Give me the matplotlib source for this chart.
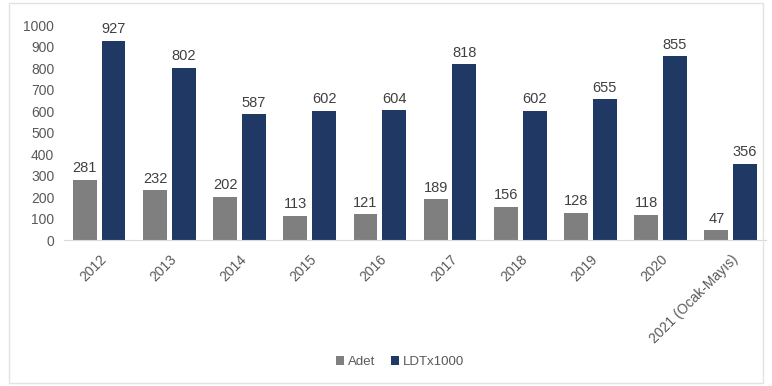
import matplotlib
matplotlib.use("Agg")
import matplotlib.pyplot as plt
from matplotlib.patches import Rectangle
import numpy as np

plt.rcParams['font.family'] = ['Liberation Sans', 'DejaVu Sans']

categories = ["2012", "2013", "2014", "2015", "2016", "2017", "2018", "2019", "2020", "2021 (Ocak-Mayıs)"]
adet = [281, 232, 202, 113, 121, 189, 156, 128, 118, 47]
ldt = [927, 802, 587, 602, 604, 818, 602, 655, 855, 356]
series_names = ["Adet", "LDTx1000"]
yticks = list(range(0, 1001, 100))

gray = "#7f7f7f"
navy = "#1f3864"
text_col = "#595959"

fig = plt.figure(figsize=(7.72, 3.86), dpi=100)
fig.patches.append(Rectangle((0.012, 0.008), 0.976, 0.984, transform=fig.transFigure,
                             fill=False, edgecolor="#e3e3e3", linewidth=1.0))
ax = fig.add_axes([0.083, 0.378, 0.909, 0.557])

x = np.arange(len(categories))
w = 0.34
off = 0.205
b1 = ax.bar(x - off, adet, w, color=gray, label=series_names[0])
b2 = ax.bar(x + off, ldt, w, color=navy, label=series_names[1])

for bars, vals in ((b1, adet), (b2, ldt)):
    for rect, v in zip(bars, vals):
        ax.text(rect.get_x() + rect.get_width() / 2, v + 20, str(v), ha="center", va="bottom",
                fontsize=10.5, color="#404040")

ax.set_xlim(-0.5, len(categories) - 0.5)
ax.set_ylim(0, 1000)
ax.set_yticks(yticks)
ax.set_yticklabels([str(t) for t in yticks], fontsize=10, color=text_col)
ax.set_xticks(x)
ax.set_xticklabels(categories, rotation=45, ha="right", rotation_mode="anchor",
                   fontsize=10, color=text_col)
ax.tick_params(axis="y", length=0, pad=7)
ax.tick_params(axis="x", length=0, pad=9)
for s in ["top", "right", "left"]:
    ax.spines[s].set_visible(False)
ax.spines["bottom"].set_color("#d9d9d9")
ax.spines["bottom"].set_linewidth(0.8)

leg = fig.legend(loc="center", bbox_to_anchor=(0.518, 0.062), ncol=2, frameon=False,
                 fontsize=9.5, handlelength=0.6, handleheight=0.6, handletextpad=0.3,
                 columnspacing=1.2)
for t in leg.get_texts():
    t.set_color(text_col)

fig.savefig("out.png", dpi=100)
